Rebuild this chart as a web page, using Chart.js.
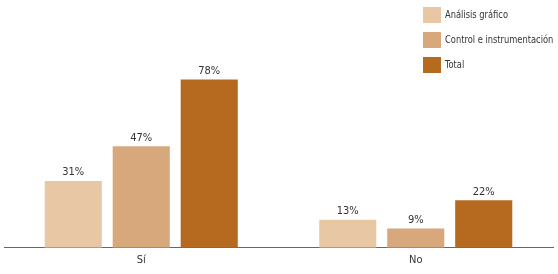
<!DOCTYPE html>
<html>
<head>
<meta charset="utf-8">
<script src="https://cdn.jsdelivr.net/npm/chart.js@4.4.1/dist/chart.umd.min.js"></script>
<style>
  html, body { margin: 0; padding: 0; background: #fff; overflow: hidden; }
  #wrap { position: relative; width: 558px; height: 274px; }
  #legend { position: absolute; left: 423px; top: 6px; font-family: 'Liberation Sans Narrow', 'DejaVu Sans Condensed', sans-serif; font-size: 11px; color: #333; white-space: nowrap; }
  .row { display: flex; align-items: center; height: 17px; margin-bottom: 8px; }
  .box { width: 18px; height: 16px; margin-right: 4px; flex: none; }
  .row span { display: inline-block; transform: scaleX(0.84); transform-origin: left center; }
</style>
</head>
<body>
<div id="wrap">
  <canvas id="grafico" width="558" height="274"></canvas>
  <div id="legend"></div>
</div>
<script>
// datos
const categorias = ['Sí', 'No'];
const series = ['Análisis gráfico', 'Control e instrumentación', 'Total'];
const analisisGrafico = [31, 13];
const controlInstrumentacion = [47, 9];
const total = [78, 22];
const colores = ['#E8C8A4', '#D6A87B', '#B56A20'];

const fuente = "'Liberation Sans Narrow', 'DejaVu Sans Condensed', sans-serif";

// leyenda en HTML
const leyenda = document.getElementById('legend');
series.forEach((nombre, i) => {
    const fila = document.createElement('div');
    fila.className = 'row';
    fila.innerHTML = `<div class="box" style="background:${colores[i]}"></div><span>${nombre}</span>`;
    leyenda.appendChild(fila);
});

// etiquetas encima de cada barra
const etiquetasBarras = {
    id: 'etiquetasBarras',
    afterDatasetsDraw(chart) {
        const ctx = chart.ctx;
        ctx.save();
        ctx.font = '11px ' + fuente;
        ctx.fillStyle = '#333';
        ctx.textAlign = 'center';
        ctx.textBaseline = 'bottom';
        chart.data.datasets.forEach((ds, i) => {
            chart.getDatasetMeta(i).data.forEach((barra, j) => {
                ctx.fillText(ds.data[j] + '%', barra.x, barra.y - 3);
            });
        });
        ctx.restore();
    }
};

new Chart(document.getElementById('grafico'), {
    type: 'bar',
    data: {
        labels: categorias,
        datasets: [
            { label: series[0], data: analisisGrafico, backgroundColor: colores[0] },
            { label: series[1], data: controlInstrumentacion, backgroundColor: colores[1] },
            { label: series[2], data: total, backgroundColor: colores[2] }
        ]
    },
    options: {
        responsive: false,
        animation: false,
        layout: { padding: { left: 4, right: 5, top: 32, bottom: 1 } },
        datasets: { bar: { categoryPercentage: 0.743, barPercentage: 0.84 } },
        plugins: { legend: { display: false }, tooltip: { enabled: false } },
        scales: {
            x: {
                grid: { display: false, drawTicks: false },
                border: { display: true, color: '#8A5A48', width: 1 },
                ticks: { color: '#333', font: { family: fuente, size: 11 }, padding: 6 }
            },
            y: { display: false, min: 0, max: 100 }
        }
    },
    plugins: [etiquetasBarras]
});
</script>
</body>
</html>
